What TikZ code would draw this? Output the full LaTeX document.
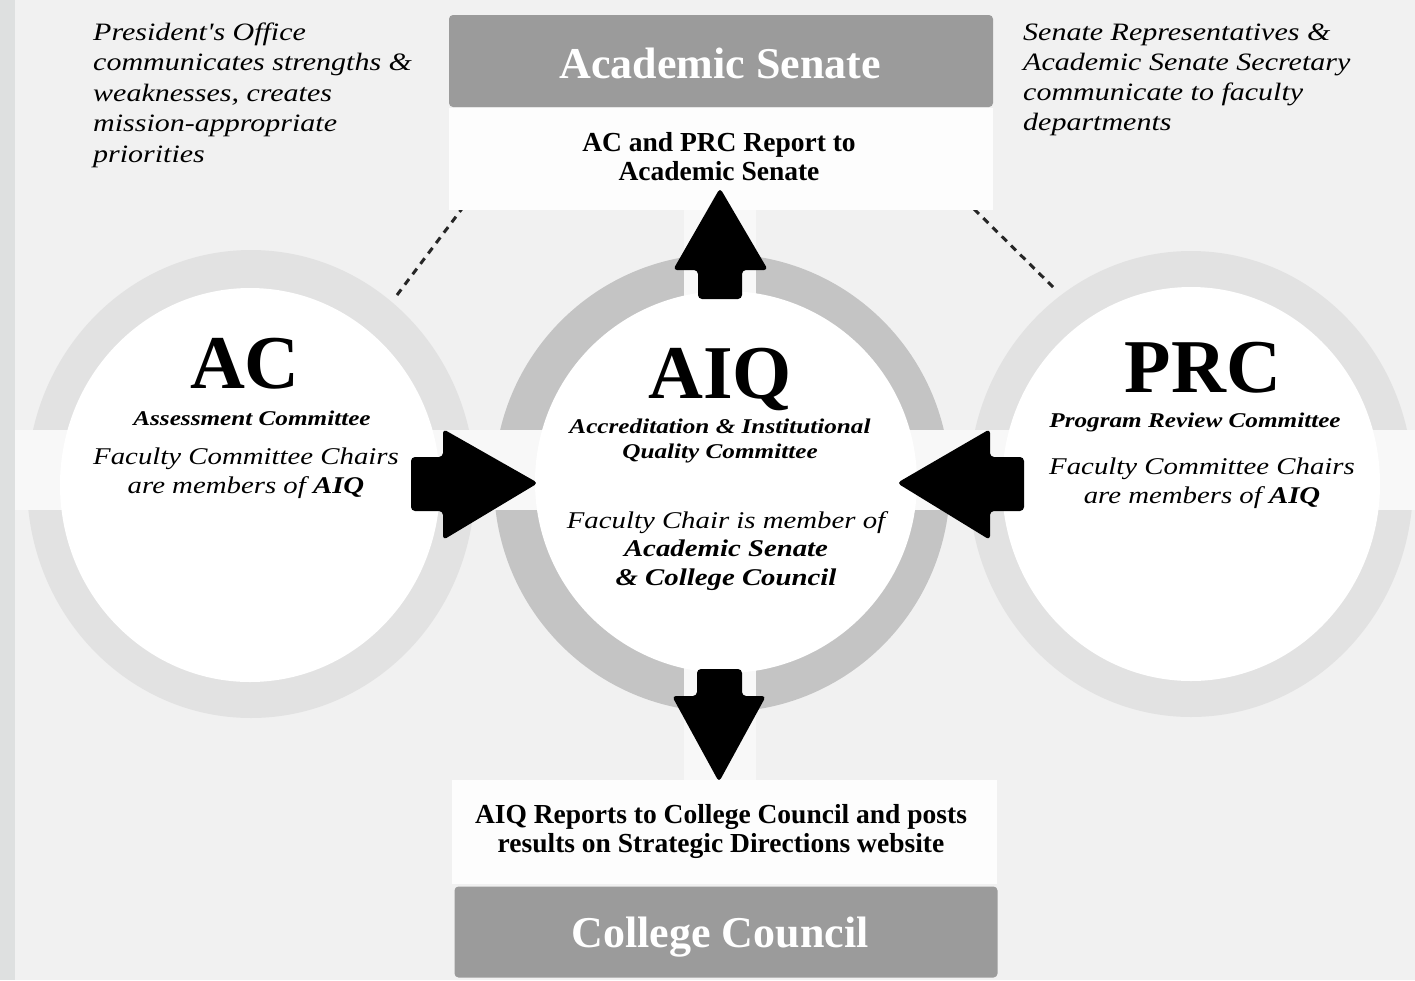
\documentclass[tikz,border=0pt]{standalone}
\usepackage{fontspec}
\setmainfont{Liberation Serif}
\newfontfamily\wf[FakeStretch=1.2]{Liberation Serif}
\definecolor{bg}{HTML}{F1F1F1}
\definecolor{strip}{HTML}{DEE0E0}
\definecolor{ringlt}{HTML}{E2E2E2}
\definecolor{ringdk}{HTML}{C4C4C4}
\definecolor{band}{HTML}{F8F8F8}
\definecolor{hdr}{HTML}{9B9B9B}
\definecolor{paper}{HTML}{FDFDFD}
\tikzset{
  hdrbox/.style={fill=hdr, rounded corners=4pt, inner sep=0pt},
  paperbox/.style={fill=paper, inner sep=0pt},
  hdrtxt/.style={text=white, font=\bfseries\fontsize{44}{48}\selectfont, inner sep=0pt},
  reptxt/.style={font=\bfseries\fontsize{27.5}{28.5}\selectfont, align=center, inner sep=0pt},
  note/.style={font=\wf\itshape\fontsize{25}{30.5}\selectfont, align=left, inner sep=0pt},
  bigtxt/.style={font=\bfseries\fontsize{76}{80}\selectfont, inner sep=0pt, text depth=0pt},
  subtxt/.style={font=\wf\bfseries\itshape\fontsize{21}{25}\selectfont, align=center, inner sep=0pt},
  bodytxt/.style={font=\wf\itshape\fontsize{24}{28.5}\selectfont, align=center, inner sep=0pt},
  blockarrow/.style={fill=black, rounded corners=4pt},
  dashlink/.style={line width=3pt, dash pattern=on 7pt off 6pt, black!85}
}
\begin{document}
\begin{tikzpicture}[x=1pt,y=-1pt]
\useasboundingbox (0,0) rectangle (1415,980);
\fill[bg] (0,0) rectangle (1415,980);
\fill[strip] (0,0) rectangle (15,980);

% rings
\fill[ringlt] (251,484) ellipse [x radius=224, y radius=234];
\fill[ringlt] (1191,484) ellipse [x radius=222, y radius=233];
\fill[ringdk] (722,483) ellipse [x radius=228, y radius=229];

% light bands
\fill[band] (15,430) rectangle (1415,510);
\fill[band] (684,208) rectangle (756,780);

% inner white discs
\fill[white] (250,485) ellipse [x radius=190, y radius=197];
\fill[white] (726,482) ellipse [x radius=191, y radius=191];
\fill[white] (1191,484) ellipse [x radius=189, y radius=197];

% dashed links
\coordinate (acrim) at (397,295);
\coordinate (senL) at (467,202);
\coordinate (prcrim) at (1053,287);
\coordinate (senR) at (973,208);
\draw[dashlink] (acrim) -- (senL);
\draw[dashlink] (prcrim) -- (senR);

% top boxes
\node[paperbox, minimum width=544pt, minimum height=102pt] (senrep) at (721,159) {};
\node[hdrbox, minimum width=544pt, minimum height=92pt] (senate) at (721,61) {};
\node[hdrtxt, anchor=base] (senatetxt) at (720,78) {Academic Senate};
\node[reptxt, anchor=base] (senreptxt) at (719,180) {AC and PRC Report to\\Academic Senate};

% bottom boxes
\node[paperbox, minimum width=545pt, minimum height=104pt] (ccrep) at (724,832) {};
\node[hdrbox, minimum width=543pt, minimum height=91pt] (council) at (726,932) {};
\node[hdrtxt, anchor=base] (counciltxt) at (720,947) {College Council};
\node[reptxt, anchor=base] (ccreptxt) at (721,852) {AIQ Reports to College Council and posts\\results on Strategic Directions website};

% notes (anchor = baseline of last line)
\node[note, anchor=base west] (pres) at (93,162) {President's Office\\communicates strengths \&\\weaknesses, creates\\mission-appropriate\\priorities};
\node[note, anchor=base west, font=\wf\itshape\fontsize{25}{30}\selectfont] (sennote) at (1023,130) {Senate Representatives \&\\Academic Senate Secretary\\communicate to faculty\\departments};

% AC
\node[bigtxt, anchor=base] (ac) at (245,388) {AC};
\node[subtxt, anchor=base] (acsub) at (252,425) {Assessment Committee};
\node[bodytxt, anchor=base] (acbody) at (246,493) {Faculty Committee Chairs\\are members of \textbf{AIQ}};

% AIQ
\node[bigtxt, anchor=base] (aiq) at (720,398) {AIQ};
\node[subtxt, anchor=base] (aiqsub) at (720,458) {Accreditation \& Institutional\\Quality Committee};
\node[bodytxt, anchor=base] (aiqbody) at (726,585) {Faculty Chair is member of\\\textbf{Academic Senate}\\\textbf{\& College Council}};

% PRC
\node[bigtxt, anchor=base] (prc) at (1203,392) {PRC};
\node[subtxt, anchor=base, text height=15pt] (prcsub) at (1195,427) {Program Review Committee};
\node[bodytxt, anchor=base] (prcbody) at (1202,503) {Faculty Committee Chairs\\are members of \textbf{AIQ}};

% block arrows
\fill[blockarrow] (720,188) -- (768,270) -- (742,270) -- (742,299) -- (698,299) -- (698,270) -- (673,270) -- cycle;
\fill[blockarrow] (719,782) -- (766,696) -- (742,696) -- (742,669) -- (697,669) -- (697,696) -- (672,696) -- cycle;
\fill[blockarrow] (538,483) -- (443,429) -- (443,457) -- (411,457) -- (411,511) -- (443,511) -- (443,540) -- cycle;
\fill[blockarrow] (897,483) -- (990,429) -- (990,457) -- (1024,457) -- (1024,511) -- (990,511) -- (990,540) -- cycle;
\end{tikzpicture}
\end{document}
